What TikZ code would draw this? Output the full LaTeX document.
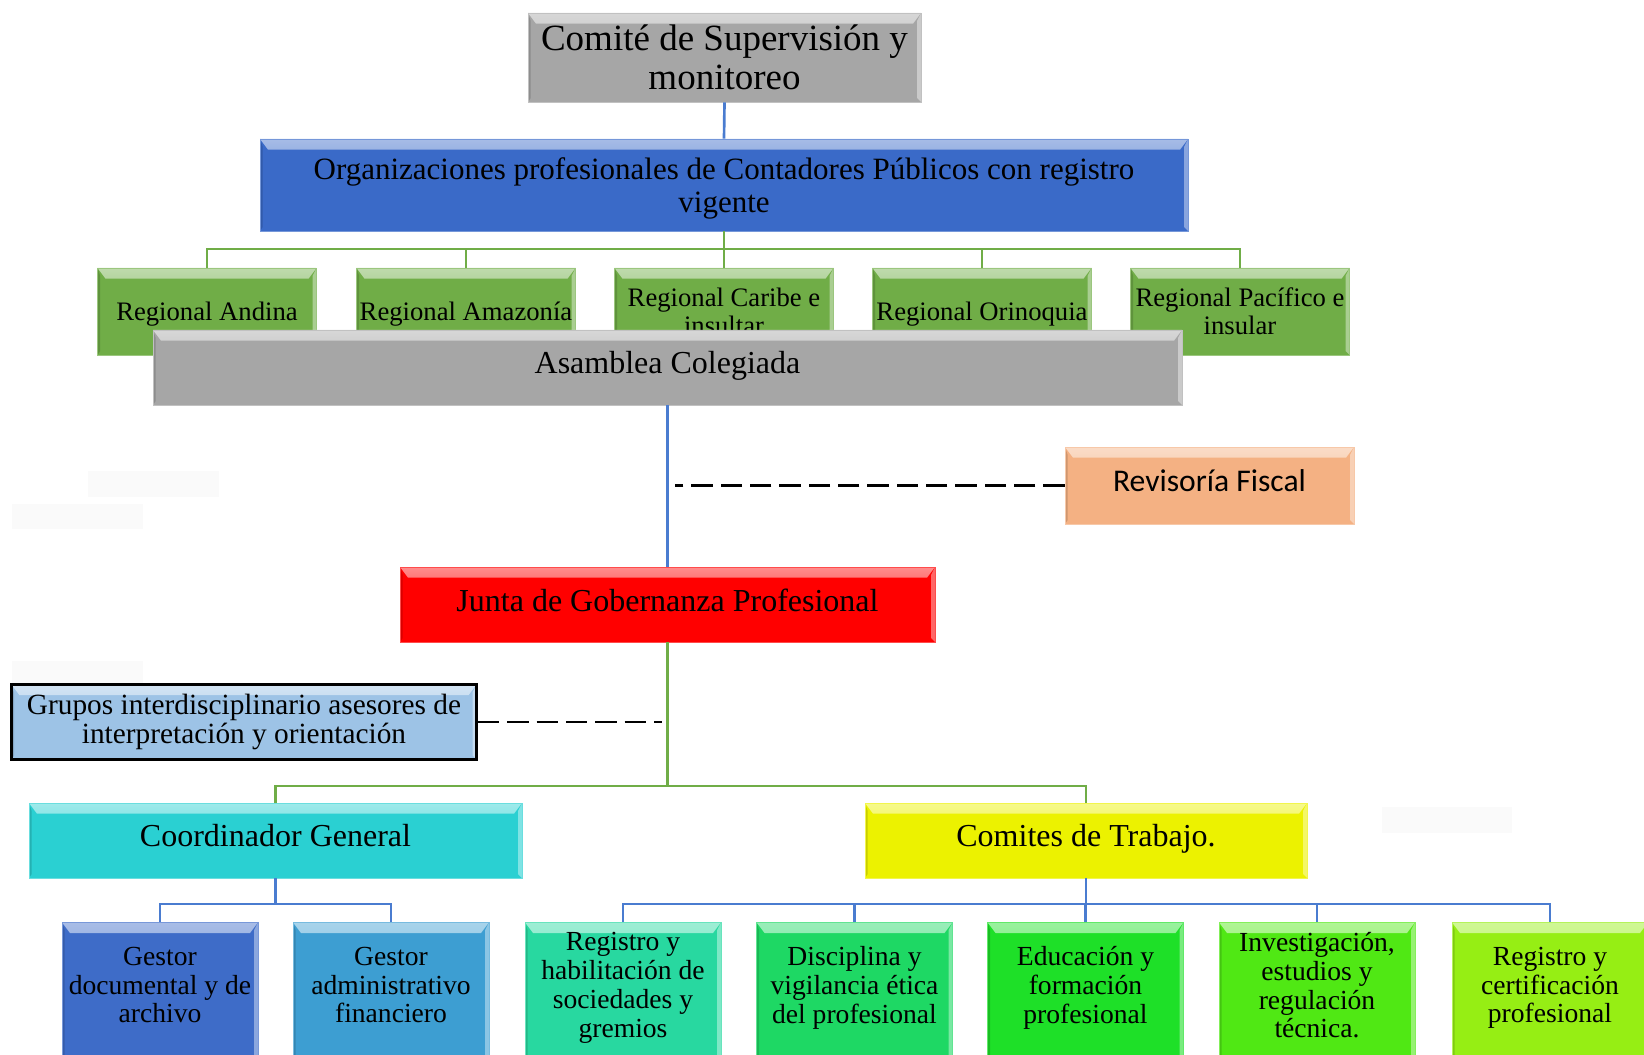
\documentclass[tikz,border=0pt]{standalone}
\usepackage{fontspec}
\setmainfont{Liberation Serif}
\newfontfamily\calibri{Carlito}
\usepackage{tikz}

\definecolor{cgris}{RGB}{166,166,166}
\definecolor{cazulorg}{RGB}{58,106,200}
\definecolor{cverdereg}{RGB}{112,173,71}
\definecolor{cnaranja}{RGB}{244,177,131}
\definecolor{crojo}{RGB}{255,0,0}
\definecolor{cceleste}{RGB}{157,195,230}
\definecolor{ccian}{RGB}{42,208,210}
\definecolor{camarillo}{RGB}{236,242,0}
\definecolor{cgestdoc}{RGB}{62,108,200}
\definecolor{cgestadm}{RGB}{61,158,210}
\definecolor{cregistro}{RGB}{40,216,160}
\definecolor{cdisciplina}{RGB}{30,216,100}
\definecolor{ceducacion}{RGB}{30,224,40}
\definecolor{cinvestiga}{RGB}{80,232,20}
\definecolor{ccertifica}{RGB}{150,238,20}
\definecolor{lazul}{RGB}{74,124,208}
\definecolor{lverde}{RGB}{112,173,71}

\tikzset{
  caja/.style={rectangle, fill=#1, draw=#1!70!white, line width=0.5pt, inner sep=1pt, align=center, text=black,
    path picture={
      \shade[top color=#1!45!white, bottom color=#1] (path picture bounding box.north west) -- (path picture bounding box.north east) -- ([xshift=-6pt,yshift=-8pt]path picture bounding box.north east) -- ([xshift=6pt,yshift=-8pt]path picture bounding box.north west) -- cycle;
      \fill[#1!60!white] (path picture bounding box.north east) -- ([xshift=-3pt,yshift=-6pt]path picture bounding box.north east) -- ([xshift=-3pt,yshift=3pt]path picture bounding box.south east) -- (path picture bounding box.south east) -- cycle;
      \fill[#1!85!black] (path picture bounding box.north west) -- ([xshift=2pt,yshift=-6pt]path picture bounding box.north west) -- ([xshift=2pt,yshift=3pt]path picture bounding box.south west) -- (path picture bounding box.south west) -- cycle;
    }},
  regional/.style={caja=cverdereg, minimum width=164.25pt, minimum height=65.25pt, font=\fontsize{20}{21.2}\selectfont},
  fila/.style={caja=#1, anchor=north, minimum width=147pt, minimum height=114.75pt},
  textofila/.style={align=center, inner sep=0pt, text depth=0pt, font=\fontsize{20.7}{21.6}\selectfont},
  subir/.style={text depth=7pt},
  lineaazul/.style={draw=lazul, line width=2pt},
  lineaverde/.style={draw=lverde, line width=2pt},
  punteada/.style={draw=black, line width=2.2pt, dash pattern=on 16pt off 6pt}
}

\begin{document}
\begin{tikzpicture}[x=0.75pt,y=0.75pt,yscale=-1,xscale=1]
\useasboundingbox (0,0) rectangle (1644,1055);
\clip (0,0) rectangle (1644,1055);

%Manchas claras
\fill[black!2] (88,471) rectangle (219,497);
\fill[black!2] (12,504) rectangle (143,529);
\fill[black!2] (12,661) rectangle (143,684);
\fill[black!2] (1382,807) rectangle (1512,833);

%Caja: comite
\node[caja=cgris, minimum width=294.75pt, minimum height=66.75pt, font=\fontsize{27.75}{29.25}\selectfont] (comite) at (724.5,57.5) {Comité de Supervisión y\\monitoreo};
%Caja: organizaciones
\node[caja=cazulorg, minimum width=696pt, minimum height=69pt, text depth=0pt, font=\fontsize{23.25}{25}\selectfont] (org) at (724,185) {Organizaciones profesionales de Contadores Públicos con registro\\vigente};

%Regionales
\node[regional, text depth=0pt] (andina) at (207,311.5) {Regional Andina};
\node[regional, text depth=0pt] (amazonia) at (466,311.5) {Regional Amazonía};
\node[regional] (caribe) at (724,311.5) {Regional Caribe e\\insultar};
\node[regional, text depth=0pt] (orinoquia) at (982,311.5) {Regional Orinoquia};
\node[regional] (pacifico) at (1240,311.5) {Regional Pacífico e\\insular};

%Lineas superiores
\coordinate (busreg) at (724,249);
\draw[lineaazul] (comite.south) -- (org.north);
\foreach \r in {andina,amazonia,caribe,orinoquia,pacifico}
  \draw[lineaverde] (org.south) -- (busreg) -| (\r.north);

%Caja: asamblea (encima de las regionales)
\node[caja=cgris, subir, minimum width=771.75pt, minimum height=56.25pt, font=\fontsize{24}{26}\selectfont] (asamblea) at (667.5,367.5) {Asamblea Colegiada};
%Caja: revisoria
\node[caja=cnaranja, subir, minimum width=216.75pt, minimum height=57.75pt, font=\calibri\fontsize{23.7}{26}\selectfont] (revisoria) at (1209.5,485.5) {Revisoría Fiscal};
%Caja: junta
\node[caja=crojo, subir, minimum width=401.25pt, minimum height=56.25pt, font=\fontsize{24}{26}\selectfont] (junta) at (667.5,604.5) {Junta de Gobernanza Profesional};
%Caja: grupos
\node[caja=cceleste, draw=black, line width=2pt, minimum width=349pt, minimum height=56.5pt, font=\fontsize{22}{22.2}\selectfont] (grupos) at (244,722) {Grupos interdisciplinario asesores de\\interpretación y orientación};

\draw[lineaazul] (asamblea.south) -- (junta.north);
\draw[punteada] (revisoria.west) -- ([xshift=5.5pt]revisoria.west -| junta.north);
\draw[punteada] (grupos.east) -- ([xshift=-4.5pt]grupos.east -| junta.south);

%Coordinador y comites
\node[caja=ccian, subir, minimum width=369.75pt, minimum height=56.25pt, font=\fontsize{24}{26}\selectfont] (coord) at (275.5,840.5) {Coordinador General};
\node[caja=camarillo, subir, minimum width=331.5pt, minimum height=56.25pt, font=\fontsize{24}{26}\selectfont] (comites) at (1086,840.5) {Comites de Trabajo.};

\coordinate (busjunta) at (667.5,786);
\foreach \r in {coord,comites}
  \draw[lineaverde] (junta.south) -- (busjunta) -| (\r.north);

%Fila inferior
\node[fila=cgestdoc] (gdoc) at (160,922) {};
\node[fila=cgestadm] (gadm) at (391,922) {};
\node[fila=cregistro] (regsoc) at (623,922) {};
\node[fila=cdisciplina] (disc) at (854.5,922) {};
\node[fila=ceducacion] (edu) at (1085.5,922) {};
\node[fila=cinvestiga] (inv) at (1317,922) {};
\node[fila=ccertifica] (cert) at (1550,922) {};

% Textos de la fila
\node[textofila] (gdoc-t) at (160,985) {Gestor\\documental y de\\archivo};
\node[textofila] (gadm-t) at (391,985) {Gestor\\administrativo\\financiero};
\node[textofila] (regsoc-t) at (623,985) {Registro y\\habilitación de\\sociedades y\\gremios};
\node[textofila] (disc-t) at (854.5,985) {Disciplina y\\vigilancia ética\\del profesional};
\node[textofila] (edu-t) at (1085.5,985) {Educación y\\formación\\profesional};
\node[textofila] (inv-t) at (1317,985) {Investigación,\\estudios y\\regulación\\técnica.};
\node[textofila] (cert-t) at (1550,985) {Registro y\\certificación\\profesional};

\coordinate (buscoord) at (275.5,904);
\coordinate (buscomites) at (1086,904);
\foreach \r in {gdoc,gadm}
  \draw[lineaazul] (coord.south) -- (buscoord) -| (\r.north);
\foreach \r in {regsoc,disc,edu,inv,cert}
  \draw[lineaazul] (comites.south) -- (buscomites) -| (\r.north);

\end{tikzpicture}
\end{document}
